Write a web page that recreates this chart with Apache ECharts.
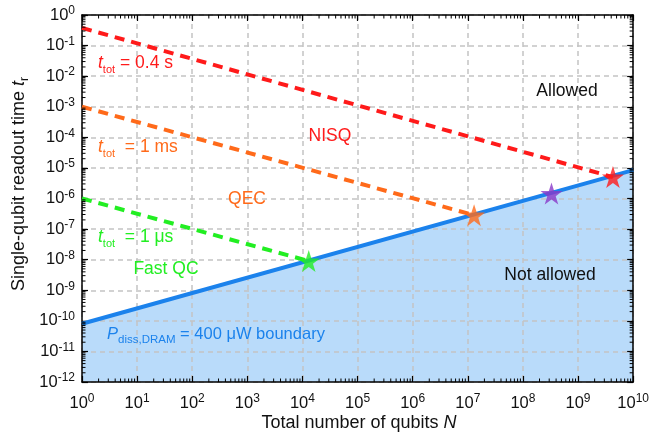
<!DOCTYPE html>
<html><head><meta charset="utf-8">
<script src="https://cdn.jsdelivr.net/npm/echarts@6/dist/echarts.min.js"></script>
<style>html,body{margin:0;padding:0;background:#fff}#c{width:652px;height:438px}</style>
</head><body><div id="c"></div>
<script>
const FONT = '"Liberation Sans", Arial, Helvetica, sans-serif';

// ---- data ----
const boundaryN = [1, 1e10];
const boundaryT = [8e-11, 8.5e-6];
const nisqN = [1, 4.3e9];
const nisqT = [0.38, 5e-6];
const qecN = [1, 1.3e7];
const qecT = [1e-3, 2.85e-7];
const fastN = [1, 1.3e4];
const fastT = [1e-6, 9e-9];
const starN = [1.3e4, 1.3e7, 3.3e8, 4.3e9];
const starT = [9e-9, 2.85e-7, 1.45e-6, 5e-6];
const starColors = ['#22ee22', '#ff6a1a', '#8a38c8', '#ff1a1a'];
const xExtent = [1, 1e10];
const yExtent = [1e-12, 1];

// minor tick positions (axis decoration, 2..9 per decade)
const xMinor = [];
for (let e = 0; e < 10; e++) for (let m = 2; m <= 9; m++) xMinor.push(m * Math.pow(10, e));
const yMinor = [];
for (let e = -12; e < 0; e++) for (let m = 2; m <= 9; m++) yMinor.push(m * Math.pow(10, e));

const RED = '#ff1a1a', ORANGE = '#ff6a1a', GREEN = '#22ee22', BLUE = '#1b82ec';

const pairs = (xs, ys) => xs.map((x, i) => [x, ys[i]]);
const STAR = 'path://M50,0 L61.8,35.1 L98.9,35.1 L68.7,56.8 L80.2,91.6 L50,70 L19.8,91.6 L31.3,56.8 L1.1,35.1 L38.2,35.1 Z';

const tickLabel = {
  formatter: v => '{b|10}{e|' + Math.round(Math.log10(v)) + '}',
  rich: {
    b: { fontSize: 16.5, fontFamily: FONT, color: '#111', lineHeight: 20 },
    e: { fontSize: 12, fontFamily: FONT, color: '#111', lineHeight: 12, verticalAlign: 'top' }
  }
};

function baseAxis(extent, pos, show) {
  return {
    type: 'log', logBase: 10, min: extent[0], max: extent[1], interval: 1,
    position: pos, z: 2,
    axisLine: { show: true, onZero: false, lineStyle: { color: '#000', width: 1.5 } },
    axisTick: { show: true, inside: true, length: 6, lineStyle: { color: '#000', width: 1.2 } },
    minorTick: { show: false },
    splitLine: { show: show, lineStyle: { color: '#c4c4c4', width: 1.5, type: [5, 4] } },
    axisLabel: { show: false }
  };
}

const xA = baseAxis(xExtent, 'bottom', true);
xA.axisLabel = Object.assign({ show: true, margin: 11 }, tickLabel);
const xB = baseAxis(xExtent, 'top', false);
const yA = baseAxis(yExtent, 'left', true);
yA.axisLabel = Object.assign({ show: true, margin: 7 }, tickLabel);
const yB = baseAxis(yExtent, 'right', false);

function dashed(xs, ys, color) {
  return {
    type: 'line', data: pairs(xs, ys), symbol: 'none', z: 3, silent: true,
    lineStyle: { color: color, width: 4, type: [10, 7], cap: 'butt' }
  };
}

const subText = (color, fs, ss) => ({
  i: { fontSize: fs, fontFamily: FONT, fontStyle: 'italic', fill: color, lineHeight: 24 },
  s: { fontSize: ss, fontFamily: FONT, fill: color, lineHeight: 13, verticalAlign: 'bottom' },
  n: { fontSize: fs, fontFamily: FONT, fill: color, lineHeight: 24 }
});

function label(x, y, text, color, align, fs, ss) {
  fs = fs || 17.5; ss = ss || 11;
  return {
    type: 'text', x: x, y: y, z: 20,
    style: { text: text, fill: color, fontSize: fs, fontFamily: FONT, align: align || 'left', verticalAlign: 'middle', rich: subText(color, fs, ss) }
  };
}

const chart = echarts.init(document.getElementById('c'), null, { renderer: 'canvas' });
chart.setOption({
  animation: false,
  backgroundColor: '#fff',
  grid: { left: 82, right: 18, top: 15, bottom: 56, containLabel: false },
  xAxis: [xA, xB],
  yAxis: [yA, yB],
  series: [
    {
      type: 'line', data: pairs(boundaryN, boundaryT), symbol: 'none', z: 1, silent: true,
      lineStyle: { width: 0 },
      areaStyle: { color: '#b9dbfa', opacity: 1, origin: 'start' }
    },
    {
      type: 'line', data: pairs(boundaryN, boundaryT), symbol: 'none', z: 3, silent: true,
      lineStyle: { color: BLUE, width: 4 }
    },
    dashed(nisqN, nisqT, RED),
    dashed(qecN, qecT, ORANGE),
    dashed(fastN, fastT, GREEN),
    {
      type: 'scatter', z: 5, symbol: STAR, symbolSize: 22, silent: true,
      data: starN.map((n, i) => ({ value: [n, starT[i]], itemStyle: { color: starColors[i] } }))
    },
    {
      type: 'custom', z: 6, silent: true, clip: false,
      data: xMinor.map(v => [v, yExtent[0]]),
      renderItem: (params, api) => {
        const v = api.value(0);
        const b = api.coord([v, yExtent[0]]);
        const t = api.coord([v, yExtent[1]]);
        return { type: 'group', children: [
          { type: 'line', shape: { x1: b[0], y1: b[1], x2: b[0], y2: b[1] - 3.5 }, style: { stroke: '#000', lineWidth: 1 } },
          { type: 'line', shape: { x1: t[0], y1: t[1], x2: t[0], y2: t[1] + 3.5 }, style: { stroke: '#000', lineWidth: 1 } }
        ] };
      }
    },
    {
      type: 'custom', z: 6, silent: true, clip: false,
      data: yMinor.map(v => [xExtent[0], v]),
      renderItem: (params, api) => {
        const v = api.value(1);
        const l = api.coord([xExtent[0], v]);
        const r = api.coord([xExtent[1], v]);
        return { type: 'group', children: [
          { type: 'line', shape: { x1: l[0], y1: l[1], x2: l[0] + 3.5, y2: l[1] }, style: { stroke: '#000', lineWidth: 1 } },
          { type: 'line', shape: { x1: r[0], y1: r[1], x2: r[0] - 3.5, y2: r[1] }, style: { stroke: '#000', lineWidth: 1 } }
        ] };
      }
    }
  ],
  graphic: [
    label(98, 63, '{i|t}{s|tot}{n| = 0.4 s}', RED),
    label(98, 147, '{i|t}{s|tot}{n|  = 1 ms}', ORANGE),
    label(98, 237, '{i|t}{s|tot}{n|  = 1 μs}', GREEN),
    label(330, 136, '{n|NISQ}', RED, 'center'),
    label(247, 199, '{n|QEC}', ORANGE, 'center'),
    label(166, 269, '{n|Fast QC}', GREEN, 'center'),
    label(567, 91, '{n|Allowed}', '#111', 'center'),
    label(550, 275, '{n|Not allowed}', '#111', 'center'),
    label(107, 334, '{i|P}{s|diss,DRAM}{n| = 400 μW boundary}', BLUE, 'left', 16.5, 11.5),
    label(359, 423, '{n|Total number of qubits }{i|N}', '#111', 'center', 18, 12),
    Object.assign(label(19, 184, '{n|Single-qubit readout time }{i|t}{s|r}', '#111', 'center', 18, 12), { rotation: Math.PI / 2 })
  ]
});
</script>
</body></html>
